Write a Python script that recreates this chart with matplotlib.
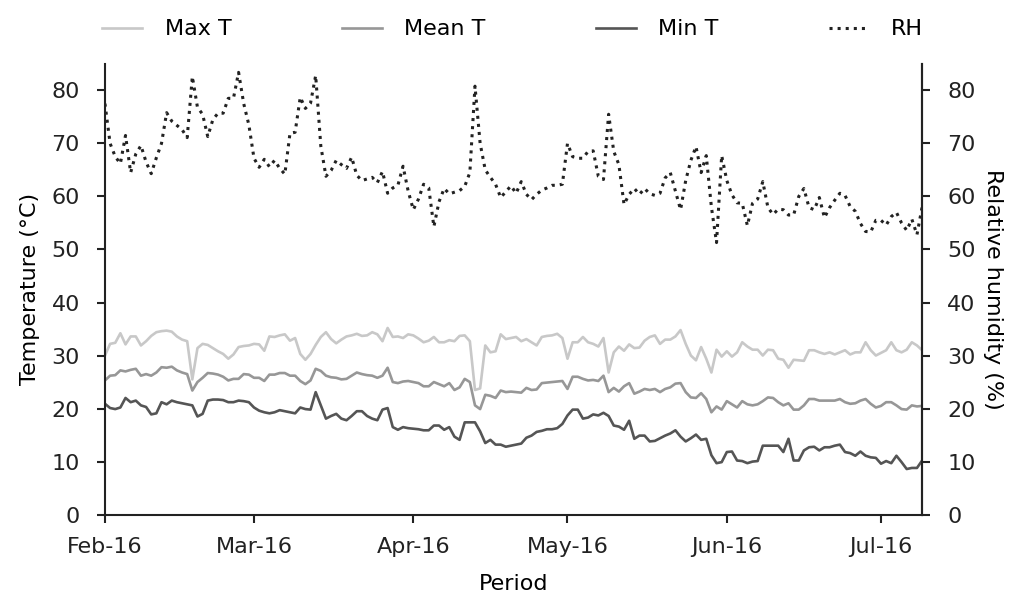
import numpy as np
import pandas as pd
import matplotlib
matplotlib.use("Agg")
import matplotlib.pyplot as plt
import matplotlib.dates as mdates

#-----------------------------------------------------------------------------------------------------------------------
# Daily weather record, 1 Feb 2016 onwards

start_date = "2016-02-01"

max_t = [30.0, 32.2, 32.4, 34.2, 32.1, 33.6, 33.6, 31.9, 32.7, 33.7,
         34.4, 34.6, 34.7, 34.5, 33.6, 33.0, 32.7, 25.5, 31.4, 32.2,
         32.0, 31.4, 30.8, 30.3, 29.4, 30.2, 31.6, 31.8, 31.9, 32.2,
         32.1, 30.9, 33.6, 33.5, 33.8, 34.0, 32.8, 33.3, 30.3, 29.2,
         30.3, 32.0, 33.5, 34.4, 33.1, 32.3, 33.0, 33.6, 33.8, 34.1,
         33.7, 33.8, 34.4, 34.0, 32.7, 35.2, 33.5, 33.6, 33.3, 34.0,
         33.8, 33.2, 32.5, 32.8, 33.5, 32.5, 32.5, 32.9, 32.7, 33.7,
         33.8, 32.7, 23.5, 23.8, 31.9, 30.6, 30.8, 34.0, 33.1, 33.3,
         33.5, 32.7, 33.1, 32.5, 31.9, 33.5, 33.7, 33.8, 34.1, 33.3,
         29.4, 32.5, 32.5, 33.5, 32.5, 32.2, 31.7, 33.3, 26.8, 30.6,
         31.7, 30.9, 32.1, 31.4, 31.5, 32.8, 33.5, 33.8, 32.2, 33.0,
         33.0, 33.6, 34.8, 32.2, 30.0, 29.1, 31.6, 29.4, 26.8, 31.1,
         29.8, 30.8, 29.8, 30.6, 32.5, 31.7, 31.1, 31.1, 30.0, 31.1,
         31.0, 29.4, 29.2, 27.7, 29.2, 29.1, 29.0, 31.0, 31.0, 30.6,
         30.3, 30.6, 30.2, 30.6, 31.0, 30.2, 30.6, 30.6, 32.5, 31.0,
         30.0, 30.5, 31.0, 32.5, 31.0, 30.6, 31.1, 32.5, 31.9, 31.0]

mean_t = [25.3, 26.2, 26.3, 27.2, 27.0, 27.3, 27.5, 26.2, 26.5, 26.2,
          26.8, 27.8, 27.7, 27.9, 27.2, 26.8, 26.5, 23.4, 25.0, 25.8,
          26.7, 26.6, 26.4, 26.0, 25.3, 25.6, 25.6, 26.5, 26.4, 25.8,
          25.8, 25.2, 26.4, 26.4, 26.7, 26.7, 26.2, 26.2, 25.2, 24.6,
          25.3, 27.5, 27.1, 26.2, 25.9, 25.8, 25.5, 25.6, 26.2, 26.8,
          26.5, 26.3, 26.2, 25.8, 26.2, 27.7, 25.0, 24.8, 25.1, 25.2,
          25.0, 24.8, 24.2, 24.2, 25.0, 24.6, 24.2, 24.8, 23.5, 24.0,
          25.6, 25.0, 20.6, 19.9, 22.6, 22.4, 22.0, 23.4, 23.1, 23.2,
          23.1, 23.0, 23.9, 23.5, 23.6, 24.8, 24.9, 25.0, 25.1, 25.2,
          23.7, 26.0, 26.0, 25.6, 25.3, 25.4, 25.2, 26.2, 23.1, 23.9,
          23.2, 24.2, 24.8, 22.8, 23.2, 23.7, 23.5, 23.7, 23.1, 23.7,
          24.0, 24.7, 24.8, 23.1, 22.1, 22.0, 22.9, 21.8, 19.3, 20.4,
          19.8, 21.4, 20.8, 20.2, 21.4, 20.8, 20.6, 20.8, 21.4, 22.1,
          22.0, 21.2, 20.6, 21.0, 19.8, 19.8, 20.6, 21.8, 21.8, 21.5,
          21.5, 21.5, 21.5, 21.8, 21.2, 20.9, 21.0, 21.5, 21.8, 20.9,
          20.2, 20.5, 21.2, 21.2, 20.6, 19.9, 19.8, 20.6, 20.4, 20.5]

min_t = [20.9, 20.1, 19.9, 20.2, 22.0, 21.2, 21.5, 20.6, 20.3, 18.9,
         19.1, 21.2, 20.8, 21.5, 21.2, 21.0, 20.8, 20.6, 18.5, 19.0,
         21.5, 21.7, 21.7, 21.6, 21.2, 21.2, 21.5, 21.4, 21.2, 20.2,
         19.6, 19.3, 19.1, 19.3, 19.7, 19.5, 19.3, 19.1, 20.2, 19.9,
         19.8, 23.1, 20.6, 18.1, 18.6, 19.0, 18.1, 17.8, 18.6, 19.5,
         19.5, 18.6, 18.1, 17.8, 19.8, 20.1, 16.5, 16.0, 16.5, 16.3,
         16.2, 16.1, 15.9, 15.9, 16.8, 16.8, 16.0, 16.5, 14.7, 14.1,
         17.4, 17.4, 17.4, 15.7, 13.5, 14.1, 13.2, 13.2, 12.8, 13.0,
         13.2, 13.4, 14.5, 14.9, 15.6, 15.8, 16.1, 16.1, 16.3, 17.1,
         18.7, 19.8, 19.8, 18.1, 18.3, 18.9, 18.7, 19.2, 18.6, 16.8,
         16.6, 16.0, 17.7, 14.3, 14.9, 14.9, 13.8, 13.9, 14.4, 14.9,
         15.3, 15.9, 14.7, 13.8, 14.4, 15.1, 14.1, 14.3, 11.2, 9.7,
         9.9, 11.8, 11.9, 10.2, 10.1, 9.7, 10.0, 10.1, 13.0, 13.0,
         13.0, 13.0, 11.8, 14.3, 10.2, 10.2, 12.1, 12.7, 12.8, 12.1,
         12.7, 12.7, 13.0, 13.2, 11.8, 11.6, 11.1, 11.9, 11.1, 10.8,
         10.7, 9.6, 10.1, 9.7, 11.1, 9.9, 8.6, 8.8, 8.8, 10.2]

rh = [77.5, 70.0, 67.5, 66.2, 71.5, 64.5, 68.0, 69.6, 66.5, 64.3,
      67.3, 70.0, 75.8, 74.2, 73.4, 72.6, 71.1, 82.6, 76.8, 75.5,
      71.3, 74.5, 75.7, 75.7, 78.5, 78.5, 83.4, 77.5, 73.5, 67.2,
      65.5, 67.0, 65.6, 66.8, 65.3, 64.2, 71.9, 72.1, 78.7, 76.6,
      77.6, 82.8, 69.5, 63.8, 64.9, 66.8, 66.0, 65.3, 67.4, 64.0,
      63.0, 63.3, 63.6, 62.6, 64.7, 60.6, 61.6, 62.1, 65.7, 61.0,
      57.5, 59.5, 62.3, 61.6, 54.3, 59.0, 61.5, 60.5, 60.8, 61.1,
      61.9, 64.5, 80.8, 70.0, 65.0, 63.6, 62.3, 59.8, 60.9, 62.0,
      60.6, 62.8, 60.4, 59.4, 60.4, 61.2, 61.6, 62.1, 62.1, 62.3,
      70.0, 67.5, 67.2, 67.2, 68.5, 68.6, 63.8, 63.2, 75.5, 68.5,
      66.0, 58.5, 60.4, 61.5, 60.4, 61.5, 60.5, 60.2, 60.6, 63.5,
      64.5, 61.0, 57.5, 63.0, 66.8, 69.4, 64.5, 67.7, 58.0, 51.3,
      67.7, 63.0, 60.3, 58.8, 58.7, 54.5, 58.7, 59.5, 62.8, 57.9,
      56.6, 57.6, 57.5, 56.5, 56.5, 60.0, 61.5, 57.9, 57.5, 59.8,
      56.0, 57.9, 59.3, 60.6, 60.2, 58.1, 57.2, 54.9, 53.4, 53.3,
      55.5, 55.5, 54.6, 56.2, 57.0, 55.0, 53.6, 55.7, 52.8, 58.0]

dates = pd.date_range(start_date, periods=len(rh), freq="D")

#-----------------------------------------------------------------------------------------------------------------------
# Plot

plt.rcParams['font.family'] = ['DejaVu Sans']
fs = 16

fig, ax1 = plt.subplots(figsize=(10.24, 5.97), dpi=100)
fig.subplots_adjust(left=0.1025, right=0.9005, bottom=0.138, top=0.893)
ax2 = ax1.twinx()

l1, = ax1.plot(dates, max_t, color='#c8c8c8', lw=1.9, label='Max T')
l2, = ax1.plot(dates, mean_t, color='#979797', lw=1.9, label='Mean T')
l3, = ax1.plot(dates, min_t, color='#555555', lw=1.9, label='Min T')
l4, = ax2.plot(dates, rh, color='#222222', lw=2.2, ls=':', label='RH')

for ax in (ax1, ax2):
    ax.set_ylim(0, 85)
    ax.set_yticks(np.arange(0, 90, 10))
    ax.set_xlim(dates[0], dates[-1])
    ax.spines['top'].set_visible(False)
    for s in ax.spines.values():
        s.set_linewidth(1.5)
        s.set_color('#222222')
    ax.tick_params(length=6, width=1.5, colors='#222222', labelsize=fs)
    ax.tick_params(axis='y', pad=12)

ax2.spines['left'].set_visible(False)
ax2.spines['bottom'].set_visible(False)

ax1.xaxis.set_major_locator(mdates.MonthLocator())
ax1.xaxis.set_major_formatter(mdates.DateFormatter('%b-%y'))
ax1.tick_params(axis='x', pad=10)

ax1.set_xlabel('Period', fontsize=fs, labelpad=12)
ax1.set_ylabel('Temperature (°C)', fontsize=fs, labelpad=8)
ax2.set_ylabel('Relative humidity (%)', fontsize=fs, rotation=270, labelpad=20)

ax1.legend(handles=[l1, l2, l3, l4], loc='lower left', bbox_to_anchor=(-0.033, 1.0, 1.064, 0.1),
           mode='expand', ncol=4, frameon=False, handlelength=1.8, handletextpad=1.0,
           fontsize=fs, borderaxespad=0.9, borderpad=0.2)

fig.savefig('out.png', dpi=100)
